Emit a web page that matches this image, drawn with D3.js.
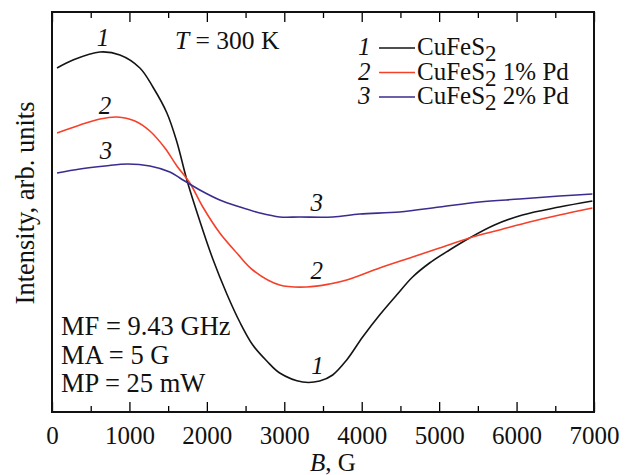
<!DOCTYPE html>
<html>
<head>
<meta charset="utf-8">
<script src="https://cdn.jsdelivr.net/npm/d3@7/dist/d3.min.js"></script>
<style>
  body { margin: 0; background: #fff; }
  svg text { font-family: "Liberation Serif", "Times New Roman", serif; fill: #111; }
</style>
</head>
<body>
<svg id="chart" width="632" height="475"></svg>
<script>
// magnetic field B, G
var fieldB = [65, 271, 619, 877, 1135, 1303, 1484, 1613, 1742, 1909, 2077, 2258, 2425, 2593, 2774, 2941, 3238, 3457, 3625, 3806, 4012, 4231, 4451, 4657, 4876, 5134, 5392, 5715, 6076, 6553, 6979];
// curve 1, CuFeS2
var pure = [86, 88, 90, 89.25, 86, 81.25, 74.75, 67.5, 58, 47.75, 38.25, 29.5, 22.5, 16.75, 12.75, 9.75, 7.5, 7.75, 9.25, 13, 18.75, 24.25, 29.25, 33.75, 37.25, 40.5, 43.5, 46.75, 49.25, 51.25, 52.75];

var fieldB2 = [65, 361, 619, 839, 1071, 1264, 1458, 1613, 1780, 1948, 2167, 2387, 2593, 2941, 3290, 3586, 3806, 4231, 4657, 5005, 5392, 5779, 6166, 6553, 6979];
// curve 2, CuFeS2 1% Pd
var pd1 = [69.75, 71.75, 73.25, 73.75, 72.75, 70.25, 66, 61.5, 57.25, 51.25, 44.75, 39.75, 35.5, 31.75, 31.25, 32, 33, 36, 38.75, 41, 43.5, 45.5, 47.5, 49.25, 51];

var fieldB3 = [65, 361, 684, 980, 1264, 1522, 1651, 1909, 2167, 2425, 2683, 2941, 3199, 3625, 3973, 4489, 5005, 5521, 6037, 6553, 6979];
// curve 3, CuFeS2 2% Pd
var pd2 = [59.75, 60.75, 61.5, 62, 61.5, 60, 58.5, 55.5, 53, 51.25, 49.75, 48.75, 48.75, 48.75, 49.5, 50, 51.25, 52.5, 53.25, 54, 54.5];

var xTicks = [0, 1000, 2000, 3000, 4000, 5000, 6000, 7000];
var legendNames = ["1", "2", "3"];
var legendTail = ["", " 1% Pd", " 2% Pd"];
// curve number labels: [B, intensity, text]
var curveLabels = [[658, 93.75, "1"], [684, 76.75, "2"], [697, 65.5, "3"], [3420, 52.5, "3"], [3420, 35.5, "2"], [3430, 11.75, "1"]];
var notes = ["MF = 9.43 GHz", "MA = 5 G", "MP = 25 mW"];

var colors = ["#141414", "#f5402a", "#3a2d8f"];

var margin = { top: 12, right: 38, bottom: 63, left: 52 };
var width = 632 - margin.left - margin.right;
var height = 475 - margin.top - margin.bottom;

var svg = d3.select("#chart");
var g = svg.append("g").attr("transform", "translate(" + margin.left + "," + margin.top + ")");

var x = d3.scaleLinear().domain([0, 7000]).range([0, width]);
var y = d3.scaleLinear().domain([0, 100]).range([height, 0]);

// curves
var series = [
    { b: fieldB, v: pure },
    { b: fieldB2, v: pd1 },
    { b: fieldB3, v: pd2 }
];
var line = d3.line()
    .x(function (d) { return x(d[0]); })
    .y(function (d) { return y(d[1]); })
    .curve(d3.curveCatmullRom.alpha(0.5));

series.forEach(function (s, i) {
    g.append("path")
        .datum(s.b.map(function (b, j) { return [b, s.v[j]]; }))
        .attr("fill", "none")
        .attr("stroke", colors[i])
        .attr("stroke-width", 1.6)
        .attr("d", line);
});

// axes: bottom with labels, top mirrored, inward ticks
var minor = d3.range(500, 7000, 1000);
g.append("g")
    .attr("transform", "translate(0," + height + ")")
    .call(d3.axisBottom(x).tickValues(xTicks).tickSize(-10).tickPadding(14).tickFormat(d3.format("d")))
    .call(function (a) {
        a.select(".domain").remove();
        a.selectAll("line").attr("stroke-width", 1.3);
        a.selectAll("text").attr("font-size", 25).attr("fill", "#111");
    });
g.append("g")
    .attr("transform", "translate(0," + height + ")")
    .call(d3.axisBottom(x).tickValues(minor).tickSize(-6).tickFormat(""))
    .call(function (a) { a.select(".domain").remove(); a.selectAll("line").attr("stroke-width", 1.3); });
g.append("g")
    .call(d3.axisTop(x).tickValues(xTicks).tickSize(-10).tickFormat(""))
    .call(function (a) { a.select(".domain").remove(); a.selectAll("line").attr("stroke-width", 1.3); });
g.append("g")
    .call(d3.axisTop(x).tickValues(minor).tickSize(-6).tickFormat(""))
    .call(function (a) { a.select(".domain").remove(); a.selectAll("line").attr("stroke-width", 1.3); });

// frame
g.append("rect")
    .attr("width", width)
    .attr("height", height)
    .attr("fill", "none")
    .attr("stroke", "#111")
    .attr("stroke-width", 2);

// axis titles
var xt = svg.append("text")
    .attr("x", margin.left + width / 2 + 10)
    .attr("y", 471)
    .attr("text-anchor", "middle")
    .attr("font-size", 25);
xt.append("tspan").attr("font-style", "italic").text("B");
xt.append("tspan").text(", G");

svg.append("text")
    .attr("transform", "translate(34,203) rotate(-90)")
    .attr("text-anchor", "middle")
    .attr("font-size", 26.5)
    .text("Intensity, arb. units");

// temperature
var tt = g.append("text")
    .attr("x", 123)
    .attr("y", 37)
    .attr("font-size", 25.5);
tt.append("tspan").attr("font-style", "italic").text("T");
tt.append("tspan").text(" = 300 K");

// curve numbers
g.selectAll(".clabel")
    .data(curveLabels)
    .enter()
    .append("text")
    .attr("class", "clabel")
    .attr("x", function (d) { return x(d[0]); })
    .attr("y", function (d) { return y(d[1]); })
    .attr("dy", "0.35em")
    .attr("text-anchor", "middle")
    .attr("font-style", "italic")
    .attr("font-size", 25)
    .text(function (d) { return d[2]; });

// legend
var legend = svg.selectAll(".legend")
    .data(legendNames)
    .enter()
    .append("g")
    .attr("class", "legend")
    .attr("transform", function (d, i) { return "translate(358," + (55 + i * 24.5) + ")"; });

legend.append("text")
    .attr("font-style", "italic")
    .attr("font-size", 25)
    .text(function (d) { return d; });
legend.append("line")
    .attr("x1", 21).attr("x2", 57)
    .attr("y1", -7).attr("y2", -7)
    .attr("stroke", function (d, i) { return colors[i]; })
    .attr("stroke-width", 1.6);
var lt = legend.append("text")
    .attr("x", 59)
    .attr("font-size", 25);
lt.append("tspan").text("CuFeS");
lt.append("tspan").attr("font-size", 23).attr("dy", 6).text("2");
lt.append("tspan").attr("dy", -6).text(function (d, i) { return legendTail[i]; });

// measurement notes
g.selectAll(".note")
    .data(notes)
    .enter()
    .append("text")
    .attr("class", "note")
    .attr("x", 9)
    .attr("y", function (d, i) { return 323 + i * 28.5; })
    .attr("font-size", 26.5)
    .text(function (d) { return d; });
</script>
</body>
</html>
